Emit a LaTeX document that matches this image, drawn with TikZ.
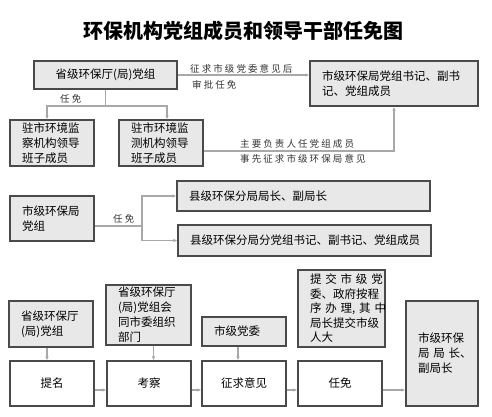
\documentclass[tikz,border=0pt]{standalone}
\usepackage{fontspec}
\usepackage{xcolor}
\usepackage{tikz}
\usetikzlibrary{arrows.meta, positioning}
\setmainfont{Noto Sans CJK SC}
\newfontfamily\lblfont[LetterSpace=22]{Noto Sans CJK SC}
\definecolor{boxline}{HTML}{4A4A4A}
\definecolor{boxfill}{HTML}{E8E8E8}
\definecolor{wire}{HTML}{A8A8A8}

\begin{document}
\begin{tikzpicture}[
    x=1pt, y=-1pt,
    gbox/.style  = {rectangle, draw=boxline, line width=1.2pt, fill=boxfill,
                    inner xsep=12pt, inner ysep=2pt, align=left,
                    font=\fontsize{11.5}{15}\selectfont},
    wbox/.style  = {gbox, fill=white},
    conn/.style  = {-{Latex[length=4pt,width=3.5pt]}, draw=wire, line width=1.3pt},
    wline/.style = {draw=wire, line width=1.3pt},
    lbl/.style   = {font=\fontsize{9.5}{12}\lblfont, text=black!80, inner sep=0pt, anchor=west},
    ttl/.style   = {font=\fontsize{20}{24}\selectfont\bfseries}
  ]
  \useasboundingbox (0,0) rectangle (492,417);

  % Title
  \node[ttl] (title) at (243,31) {环保机构党组成员和领导干部任免图};

  % Upper part
  \node[gbox, minimum width=143pt, minimum height=28pt, text width=119pt, align=center] (prov) at (105.5,75)
    {省级环保厅(局)党组};
  \node[gbox, minimum width=168pt, minimum height=45pt, text width=144pt] (citysec) at (394,83.5)
    {市级环保局党组书记、副书\\记、党组成员};
  \node[gbox, minimum width=84pt, minimum height=46pt, text width=60pt] (jiancha) at (52,143)
    {驻市环境监\\察机构领导\\班子成员};
  \node[gbox, minimum width=84pt, minimum height=46pt, text width=60pt] (jiance) at (161,143)
    {驻市环境监\\测机构领导\\班子成员};

  \draw[conn] (prov.east) -- (prov.east -| citysec.west);
  \node[lbl] (l1) at (190,69) {征求市级党委意见后};
  \node[lbl] (l2) at (192,85) {审批任免};

  \coordinate (split) at (105.5,106);
  \draw[wline] (prov.south) -- (split);
  \draw[conn] (split) -| ([xshift=-5pt]jiancha.north);
  \draw[conn] (split) -| ([xshift=6pt]jiance.north);
  \node[lbl] (l3) at (60,99) {任免};

  \draw[conn] ([yshift=-8pt]jiance.east) -| (citysec.south);
  \node[lbl] (l4) at (240,144) {主要负责人任党组成员};
  \node[lbl] (l5) at (240,159) {事先征求市级环保局意见};

  % Middle part
  \node[gbox, minimum width=84pt, minimum height=45pt, text width=60pt] (cityparty) at (52,218.5)
    {市级环保局\\党组};
  \node[gbox, minimum width=253pt, minimum height=30pt, text width=229pt] (county) at (303.5,196)
    {县级环保分局局长、副局长};
  \node[gbox, minimum width=253pt, minimum height=31pt, text width=229pt] (countysec) at (304.5,240.5)
    {县级环保分局分党组书记、副书记、党组成员};

  \coordinate (fork) at (142,226);
  \draw[wline] ([yshift=-7.5pt]cityparty.east) -- (fork);
  \draw[conn] (fork) |- (county.west);
  \draw[conn] (fork) |- (countysec.west);
  \node[lbl] (l6) at (113,219) {任免};

  % Lower part
  \node[gbox, minimum width=84pt, minimum height=46pt, text width=60pt] (p1) at (51,324)
    {省级环保厅\\(局)党组};
  \node[gbox, minimum width=85pt, minimum height=60pt, text width=61pt] (p2) at (148.5,315)
    {省级环保厅\\(局)党组会\\同市委组织\\部门};
  \node[gbox, minimum width=84pt, minimum height=29pt, text width=60pt] (p3) at (244,331.5)
    {市级党委};
  \node[gbox, minimum width=87pt, minimum height=77pt, text width=63pt,
        font=\fontsize{11.5}{14.5}\selectfont] (p4) at (341.5,308.5)
    {\makebox[63pt][s]{提 交 市 级 党}\\委、政府按程\\\makebox[63pt][s]{序 办 理, 其 中}\\局长提交市级\\人大};

  \node[wbox, minimum width=84pt, minimum height=45pt, text width=60pt, align=center] (n1) at (52,383.5) {提名};
  \node[wbox, minimum width=84pt, minimum height=45pt, text width=60pt, align=center] (n2) at (149,383.5) {考察};
  \node[wbox, minimum width=84pt, minimum height=45pt, text width=60pt, align=center] (n3) at (244,383.5) {征求意见};
  \node[wbox, minimum width=84pt, minimum height=45pt, text width=60pt, align=center] (n4) at (340,383.5) {任免};
  \node[gbox, minimum width=72pt, minimum height=105pt, text width=48pt] (n5) at (442,353.5)
    {市级环保\\\makebox[48pt][s]{局 局 长、}\\副局长};

  \foreach \p/\n/\dx in {p1/n1/-4, p2/n2/5, p3/n3/-6}
    \draw[conn] ([xshift=\dx pt]\p.south) -- ([xshift=\dx pt]\p.south |- \n.north);
  \foreach \i/\j in {n1/n2, n2/n3, n3/n4, n4/n5}
    \draw[conn] ([yshift=-6.5pt]\i.east) -- ([yshift=-6.5pt]\i.east -| \j.west);
\end{tikzpicture}
\end{document}
